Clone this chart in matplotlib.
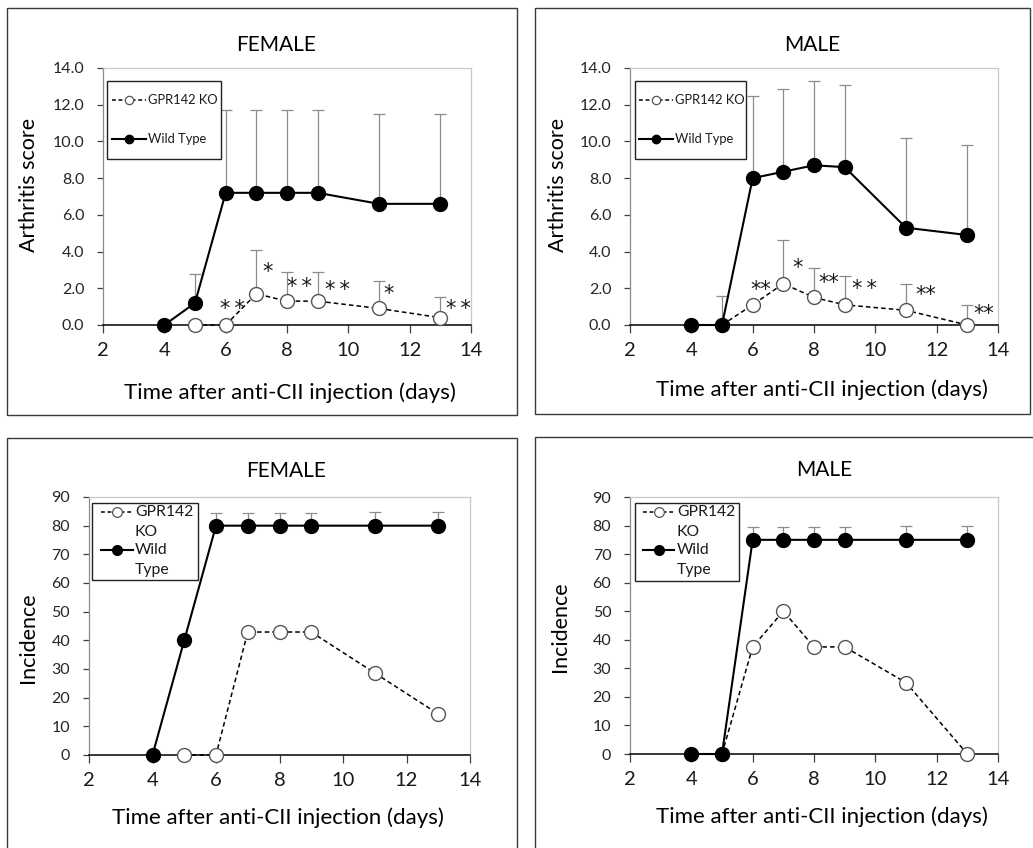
import numpy as np
import matplotlib
matplotlib.use("Agg")
import matplotlib.pyplot as plt
from matplotlib.patches import Rectangle
from matplotlib.lines import Line2D

plt.rcParams['font.family'] = ['Lato', 'DejaVu Sans']

# Days sampled
wt_days = [4, 5, 6, 7, 8, 9, 11, 13]
ko_days = [5, 6, 7, 8, 9, 11, 13]

# Arthritis score, female
f_wt_score = [0.0, 1.2, 7.2, 7.2, 7.2, 7.2, 6.6, 6.6]
f_wt_score_sd = [0.0, 1.6, 4.5, 4.5, 4.5, 4.5, 4.9, 4.9]
f_ko_score = [0.0, 0.0, 1.7, 1.3, 1.3, 0.9, 0.4]
f_ko_score_sd = [0.0, 0.0, 2.4, 1.6, 1.6, 1.5, 1.1]

# Arthritis score, male
m_wt_score = [0.0, 0.0, 8.0, 8.35, 8.7, 8.6, 5.3, 4.9]
m_wt_score_sd = [0.0, 1.6, 4.5, 4.5, 4.6, 4.5, 4.9, 4.9]
m_ko_score = [0.0, 1.1, 2.25, 1.5, 1.1, 0.8, 0.0]
m_ko_score_sd = [0.0, 0.0, 2.4, 1.6, 1.55, 1.45, 1.1]

# Incidence (%), female
f_wt_inc = [0, 40, 80, 80, 80, 80, 80, 80]
f_wt_inc_sd = [0, 0, 4.3, 4.3, 4.3, 4.3, 4.9, 4.9]
f_ko_inc = [0, 0, 42.9, 42.9, 42.9, 28.6, 14.3]

# Incidence (%), male
m_wt_inc = [0, 0, 75, 75, 75, 75, 75, 75]
m_wt_inc_sd = [0, 0, 4.5, 4.5, 4.5, 4.5, 4.9, 4.9]
m_ko_inc = [0, 37.5, 50, 37.5, 37.5, 25, 0]

# Significance marks (day, score, label)
f_stars_x = [6.22, 7.38, 8.39, 9.63, 11.3, 13.6]
f_stars_y = [1.2, 3.2, 2.4, 2.2, 2.0, 1.2]
f_stars = ['*\u2009*', '*', '*\u2009*', '*\u2009*', '*', '*\u2009*']
m_stars_x = [6.27, 7.45, 8.49, 9.66, 11.65, 13.55]
m_stars_y = [2.2, 3.4, 2.6, 2.3, 1.95, 0.9]
m_stars = ['**', '*', '**', '*\u2009*', '**', '**']

score_ticks = np.arange(0, 14.1, 2)
inc_ticks = np.arange(0, 91, 10)

W, H = 1033, 848
fig = plt.figure(figsize=(W / 100, H / 100), dpi=100)


def fx(x):
    return x / W


def fy(y):
    return 1 - y / H


def px_axes(l, t, r, b):
    return fig.add_axes([fx(l), fy(b), (r - l) / W, (b - t) / H])


def panel_box(l, t, r, b):
    fig.add_artist(Rectangle((fx(l), fy(b)), (r - l) / W, (b - t) / H,
                             transform=fig.transFigure, fill=False,
                             edgecolor='#3a3a3a', linewidth=1.0, zorder=0))


def style_axes(ax, ylim, yticks, fmt):
    ax.set_xlim(2, 14)
    ax.set_xticks(range(2, 15, 2))
    ax.set_ylim(*ylim)
    ax.set_yticks(yticks)
    ax.set_yticklabels([fmt % v for v in yticks])
    for s in ['top', 'right']:
        ax.spines[s].set_color('#c8c8c8')
        ax.spines[s].set_linewidth(0.9)
    ax.spines['left'].set_color('#8a8a8a')
    ax.spines['left'].set_linewidth(0.9)
    ax.spines['bottom'].set_color('black')
    ax.spines['bottom'].set_linewidth(1.1)
    ax.tick_params(axis='x', direction='out', length=6, width=0.9,
                   labelsize=14.5, pad=6, color='#404040', labelcolor='#1a1a1a')
    ax.tick_params(axis='y', direction='out', length=4.5, width=0.9,
                   labelsize=11.5, pad=9, color='#404040', labelcolor='#262626')


def plot_series(ax, wt, wt_sd, ko, ko_sd):
    if ko_sd is not None:
        ax.errorbar(ko_days, ko, yerr=[np.zeros(len(ko)), ko_sd], fmt='none',
                    ecolor='#8c8c8c', elinewidth=0.9, capsize=4, capthick=0.9, zorder=2)
    ax.errorbar(wt_days, wt, yerr=[np.zeros(len(wt)), wt_sd], fmt='none',
                ecolor='#8c8c8c', elinewidth=0.9, capsize=4, capthick=0.9, zorder=2)
    ax.plot(ko_days, ko, color='black', linewidth=1.1, dashes=(3, 2),
            marker='o', markersize=10, markerfacecolor='white',
            markeredgecolor='#555555', markeredgewidth=1.0, zorder=3, clip_on=False)
    ax.plot(wt_days, wt, color='black', linewidth=1.5, marker='o',
            markersize=10, markerfacecolor='black', markeredgecolor='black',
            zorder=4, clip_on=False)


def draw_legend(box, rows, fs):
    # box and rows in figure pixels: rows = (y, kind, x0, x1, text x, lines)
    l, t, r, b = box
    fig.add_artist(Rectangle((fx(l), fy(b)), (r - l) / W, (b - t) / H,
                             transform=fig.transFigure, facecolor='white',
                             edgecolor='#222222', linewidth=1.0, zorder=5))
    for y, kind, x0, x1, tx, lines in rows:
        ms = 7 if fs > 11 else 6
        if kind == 'ko':
            ln = Line2D([fx(x0), fx(x1)], [fy(y), fy(y)], transform=fig.transFigure,
                        color='black', linewidth=1.1, dashes=(2.5, 1.8), zorder=6)
            mk = Line2D([fx((x0 + x1) / 2)], [fy(y)], transform=fig.transFigure,
                        marker='o', markersize=ms,
                        markerfacecolor='white', markeredgecolor='#555555',
                        markeredgewidth=0.9, linestyle='none', zorder=7)
        else:
            ln = Line2D([fx(x0), fx(x1)], [fy(y), fy(y)], transform=fig.transFigure,
                        color='black', linewidth=1.5, zorder=6)
            mk = Line2D([fx((x0 + x1) / 2)], [fy(y)], transform=fig.transFigure,
                        marker='o', markersize=ms,
                        markerfacecolor='black', markeredgecolor='black',
                        linestyle='none', zorder=7)
        fig.add_artist(ln)
        fig.add_artist(mk)
        for i, txt in enumerate(lines):
            fig.text(fx(tx), fy(y + i * 20), txt, fontsize=fs, ha='left',
                     va='center', color='#1a1a1a', zorder=8)


def stars(ax, xs, ys, labels):
    for x, y, s in zip(xs, ys, labels):
        ax.annotate(s, (x, y), xytext=(0, -8.5), textcoords='offset points',
                    ha='center', va='baseline', fontsize=15, color='#1a1a1a',
                    family='DejaVu Sans', zorder=6)


xlabel = 'Time after anti-CII injection (days)'

# Panel frames
panel_box(7, 8, 517, 415)
panel_box(535, 8, 1030, 414)
panel_box(7, 438, 517, 860)
panel_box(535, 437, 1040, 860)

# Female arthritis score
ax1 = px_axes(103, 68, 471, 325)
style_axes(ax1, (0, 14), score_ticks, '%.1f')
plot_series(ax1, f_wt_score, f_wt_score_sd, f_ko_score, f_ko_score_sd)
stars(ax1, f_stars_x, f_stars_y, f_stars)
fig.text(fx(276), fy(45), 'FEMALE', fontsize=15, ha='center', va='center')
fig.text(fx(290), fy(393), xlabel, fontsize=16, ha='center', va='center')
fig.text(fx(29), fy(185), 'Arthritis score', fontsize=15.5, ha='center',
         va='center', rotation=90)
draw_legend((107, 81, 221, 159),
            [(100, 'ko', 112, 146, 148, ['GPR142 KO']),
             (139, 'wt', 112, 146, 148, ['Wild Type'])], 9.3)

# Male arthritis score
ax2 = px_axes(630, 68, 998, 325)
style_axes(ax2, (0, 14), score_ticks, '%.1f')
plot_series(ax2, m_wt_score, m_wt_score_sd, m_ko_score, m_ko_score_sd)
stars(ax2, m_stars_x, m_stars_y, m_stars)
fig.text(fx(812), fy(45), 'MALE', fontsize=15, ha='center', va='center')
fig.text(fx(822), fy(390), xlabel, fontsize=16, ha='center', va='center')
fig.text(fx(558), fy(185), 'Arthritis score', fontsize=15.5, ha='center',
         va='center', rotation=90)
draw_legend((635, 81, 746, 159),
            [(100, 'ko', 639, 673, 675, ['GPR142 KO']),
             (139, 'wt', 639, 673, 675, ['Wild Type'])], 9.3)

# Female incidence
ax3 = px_axes(89, 497, 470, 755)
style_axes(ax3, (0, 90), inc_ticks, '%d')
plot_series(ax3, f_wt_inc, f_wt_inc_sd, f_ko_inc, None)
fig.text(fx(286), fy(471), 'FEMALE', fontsize=15, ha='center', va='center')
fig.text(fx(278), fy(818), xlabel, fontsize=16, ha='center', va='center')
fig.text(fx(28), fy(638), 'Incidence', fontsize=15.5, ha='center',
         va='center', rotation=90)
draw_legend((92, 503, 198, 580),
            [(512, 'ko', 101, 133, 135, ['GPR142', 'KO']),
             (550, 'wt', 101, 133, 135, ['Wild', 'Type'])], 11.3)

# Male incidence
ax4 = px_axes(630, 497, 998, 754)
style_axes(ax4, (0, 90), inc_ticks, '%d')
plot_series(ax4, m_wt_inc, m_wt_inc_sd, m_ko_inc, None)
fig.text(fx(824), fy(470), 'MALE', fontsize=15, ha='center', va='center')
fig.text(fx(822), fy(817), xlabel, fontsize=16, ha='center', va='center')
fig.text(fx(560), fy(627), 'Incidence', fontsize=15.5, ha='center',
         va='center', rotation=90)
draw_legend((635, 503, 739, 581),
            [(512, 'ko', 643, 674, 677, ['GPR142', 'KO']),
             (550, 'wt', 643, 674, 677, ['Wild', 'Type'])], 11.3)

fig.savefig('out.png', dpi=100, facecolor='white')
